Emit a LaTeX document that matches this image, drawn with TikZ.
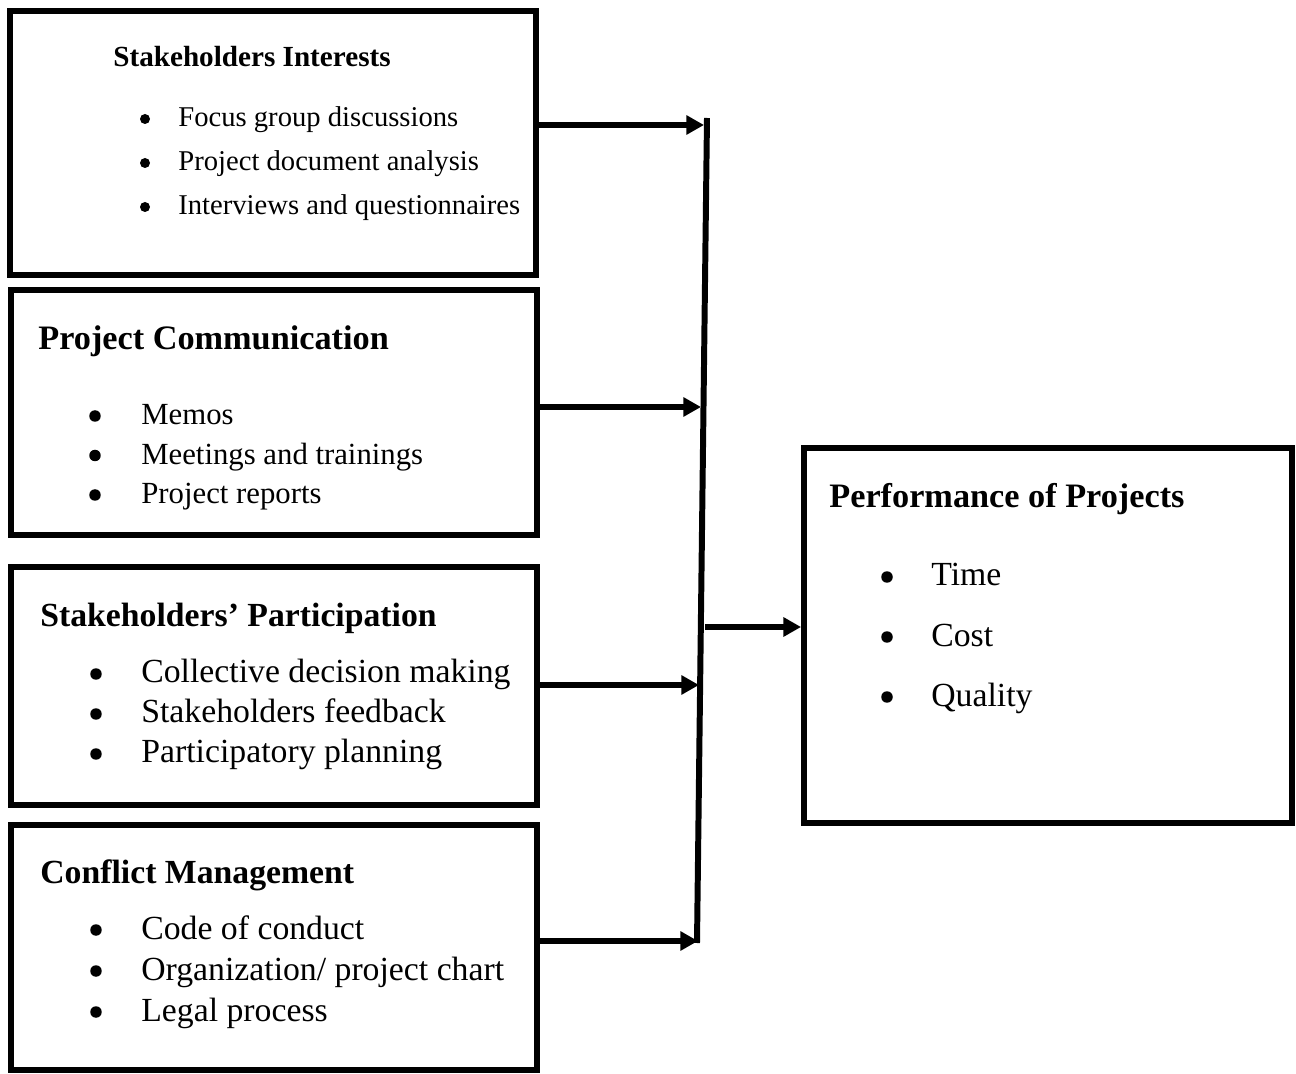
\documentclass[tikz,border=0pt]{standalone}
\usepackage{fontspec}
\setmainfont{Liberation Serif}
\usetikzlibrary{arrows.meta}

\newcommand{\sizeA}{\fontsize{16.3}{19}\selectfont}
\newcommand{\sizeB}{\fontsize{17.5}{21}\selectfont}
\newcommand{\sizeC}{\fontsize{19.2}{23}\selectfont}

\tikzset{
  blockbox/.style={draw, line width=3.4pt, inner sep=0pt},
  heading/.style={anchor=base west, inner sep=0pt, font=\bfseries},
  itemtext/.style={anchor=base west, inner sep=0pt},
  dot/.style={circle, fill, inner sep=0pt, minimum size=0.23cm},
  bar/.style={line width=3.4pt},
  flow/.style={line width=3.4pt, -{Triangle[length=10pt,width=10.5pt]}}
}

\begin{document}
\begin{tikzpicture}[x=0.02cm, y=-0.02cm]
  \useasboundingbox (0,0) rectangle (1296,1074);

  % Boxes on the left
  \node[blockbox, minimum width=10.51cm, minimum height=5.3cm] (interests) at (273,143) {};
  \node[blockbox, minimum width=10.52cm, minimum height=4.9cm] (comm) at (274,412.5) {};
  \node[blockbox, minimum width=10.52cm, minimum height=4.78cm] (partic) at (274,686) {};
  \node[blockbox, minimum width=10.52cm, minimum height=4.9cm] (conflict) at (274,947.5) {};
  % Box on the right
  \node[blockbox, minimum width=9.76cm, minimum height=7.51cm] (perf) at (1048,635.25) {};

  % Headings
  \node[heading, font=\bfseries\fontsize{16.6}{20}\selectfont] (interests-t) at (113,67) {Stakeholders Interests};
  \node[heading, font=\bfseries\fontsize{19.5}{23}\selectfont] (comm-t) at (38,350) {Project Communication};
  \node[heading, font=\bfseries\sizeC] (partic-t) at (40,627) {Stakeholders’ Participation};
  \node[heading, font=\bfseries\sizeC] (conflict-t) at (40,883) {Conflict Management};
  \node[heading, font=\bfseries\fontsize{19.5}{23}\selectfont] (perf-t) at (829,508) {Performance of Projects};

  % Bullet lists
  \foreach \txt [count=\i] in {Focus group discussions, Project document analysis, Interviews and questionnaires}{
    \node[dot, minimum size=0.2cm] (interests-b\i) at (145,{75+44*\i}) {};
    \node[itemtext, font=\sizeA] (interests-i\i) at (178,{83+44*\i}) {\txt};
  }
  \foreach \txt [count=\i] in {Memos, Meetings and trainings, Project reports}{
    \node[dot] (comm-b\i) at (95,{376.5+39.5*\i}) {};
    \node[itemtext, font=\sizeB] (comm-i\i) at (141,{385.5+39.5*\i}) {\txt};
  }
  \foreach \txt [count=\i] in {Collective decision making, Stakeholders feedback, Participatory planning}{
    \node[dot] (partic-b\i) at (96,{634+40*\i}) {};
    \node[itemtext, font=\sizeC] (partic-i\i) at (141,{643+40*\i}) {\txt};
  }
  \foreach \txt [count=\i] in {Code of conduct, Organization/ project chart, Legal process}{
    \node[dot] (conflict-b\i) at (96,{889+41*\i}) {};
    \node[itemtext, font=\sizeC] (conflict-i\i) at (141,{898+41*\i}) {\txt};
  }
  \foreach \txt [count=\i] in {Time, Cost, Quality}{
    \node[dot] (perf-b\i) at (887,{517+60*\i}) {};
    \node[itemtext, font=\sizeC] (perf-i\i) at (931,{526+60*\i}) {\txt};
  }

  % Collecting bar
  \coordinate (bartop) at (707,118);
  \coordinate (barbot) at (697,943);
  \draw[bar] (bartop) -- (barbot);

  % Arrows into the bar
  \coordinate (j1) at (704,125);
  \coordinate (j2) at (701,407);
  \coordinate (j3) at (699,685);
  \coordinate (j4) at (698,941);
  \draw[flow] (j1 -| interests.east) -- (j1);
  \draw[flow] (j2 -| comm.east) -- (j2);
  \draw[flow] (j3 -| partic.east) -- (j3);
  \draw[flow] (j4 -| conflict.east) -- (j4);

  % Arrow out to performance
  \coordinate (fork) at (705,627);
  \draw[flow] (fork) -- (fork -| perf.west);
\end{tikzpicture}
\end{document}
